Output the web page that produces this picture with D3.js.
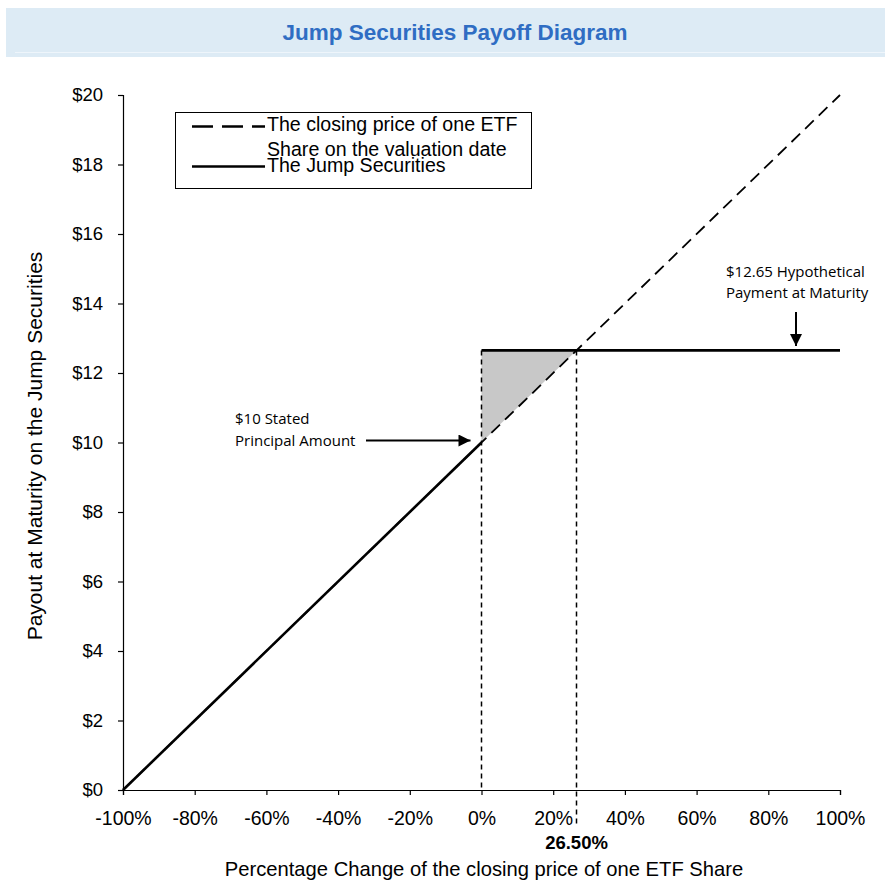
<!DOCTYPE html>
<html>
<head>
<meta charset="utf-8">
<script src="https://cdn.jsdelivr.net/npm/d3@7"></script>
<style>
  body { margin: 0; background: #fff; }
  text { font-family: Arial, "Liberation Sans", sans-serif; }
  .note { font-family: "Open Sans", "DejaVu Sans", sans-serif; font-size: 15px; }
</style>
</head>
<body>
<svg width="885" height="882"></svg>
<script>
// data
const pctTicks = [-1, -0.8, -0.6, -0.4, -0.2, 0, 0.2, 0.4, 0.6, 0.8, 1];
const priceTicks = [0, 2, 4, 6, 8, 10, 12, 14, 16, 18, 20];
const principal = 10;
const jumpPayment = 12.65;
const breakEven = 0.265;
const etfLine = [[-1, 0], [1, 20]];
const jumpLine = [[-1, 0], [0, 10]];
const jumpFlat = [[0, 12.65], [1, 12.65]];
const shaded = [[0, 10], [0, 12.65], [0.265, 12.65]];

const svg = d3.select('svg');

// title banner
svg.append('rect').attr('x', 6).attr('y', 8).attr('width', 879).attr('height', 49).attr('fill', '#ddebf5');
svg.append('line').attr('x1', 15).attr('x2', 885).attr('y1', 52.5).attr('y2', 52.5).attr('stroke', '#eef5fb').attr('stroke-width', 1);
svg.append('text').attr('x', 455).attr('y', 39.5).attr('text-anchor', 'middle')
  .attr('font-size', 22.5).attr('font-weight', 'bold').attr('fill', '#2f6dc3')
  .text('Jump Securities Payoff Diagram');

const x = d3.scaleLinear().domain([-1, 1]).range([123, 840]);
const y = d3.scaleLinear().domain([0, 20]).range([790, 95]);
const line = d3.line().x(d => x(d[0])).y(d => y(d[1]));

// shaded gain area
svg.append('path').attr('d', line(shaded) + 'Z').attr('fill', '#c8c8c8');

// axes
const yAxis = svg.append('g').attr('transform', 'translate(123,0)')
  .call(d3.axisLeft(y).tickValues(priceTicks).tickSize(5).tickPadding(15).tickFormat(d => '$' + d));
const xAxis = svg.append('g').attr('transform', 'translate(0,790)')
  .call(d3.axisBottom(x).tickValues(pctTicks).tickSize(5).tickPadding(16).tickFormat(d => Math.round(d * 100) + '%'));
[yAxis, xAxis].forEach(g => {
  g.select('.domain').attr('stroke', '#000').attr('stroke-width', 1.2);
  g.selectAll('.tick line').attr('stroke', '#000').attr('stroke-width', 1.2);
  g.selectAll('.tick text').attr('font-family', 'Arial, "Liberation Sans", sans-serif').attr('fill', '#000');
});
yAxis.selectAll('.tick text').attr('font-size', 18.5);
xAxis.selectAll('.tick text').attr('font-size', 19.5);

// dashed guide verticals
svg.append('line').attr('x1', x(0)).attr('x2', x(0)).attr('y1', y(jumpPayment)).attr('y2', y(0))
  .attr('stroke', '#000').attr('stroke-width', 1.5).attr('stroke-dasharray', '5,4');
svg.append('line').attr('x1', x(breakEven)).attr('x2', x(breakEven)).attr('y1', y(jumpPayment)).attr('y2', 826)
  .attr('stroke', '#000').attr('stroke-width', 1.5).attr('stroke-dasharray', '5,4');

// ETF line (dashed)
svg.append('path').attr('d', line(etfLine)).attr('fill', 'none')
  .attr('stroke', '#000').attr('stroke-width', 1.8).attr('stroke-dasharray', '12,7');
// Jump securities (solid)
svg.append('path').attr('d', line(jumpLine)).attr('fill', 'none').attr('stroke', '#000').attr('stroke-width', 2.6);
svg.append('path').attr('d', line(jumpFlat)).attr('fill', 'none').attr('stroke', '#000').attr('stroke-width', 2.6);

// break-even label
svg.append('text').attr('x', x(breakEven)).attr('y', 849).attr('text-anchor', 'middle')
  .attr('font-size', 18.5).attr('font-weight', 'bold').text((breakEven * 100).toFixed(2) + '%');

// axis titles
svg.append('text').attr('x', 484).attr('y', 876).attr('text-anchor', 'middle').attr('font-size', 20.2)
  .text('Percentage Change of the closing price of one ETF Share');
svg.append('text').attr('transform', 'translate(42,446) rotate(-90)').attr('text-anchor', 'middle').attr('font-size', 21)
  .text('Payout at Maturity on the Jump Securities');

// legend
const lg = svg.append('g');
lg.append('rect').attr('x', 175.5).attr('y', 112.5).attr('width', 356).attr('height', 76)
  .attr('fill', '#fff').attr('stroke', '#000').attr('stroke-width', 1);
lg.append('line').attr('x1', 192).attr('x2', 265).attr('y1', 126.5).attr('y2', 126.5)
  .attr('stroke', '#000').attr('stroke-width', 2.6).attr('stroke-dasharray', '21,9');
lg.append('line').attr('x1', 192).attr('x2', 265).attr('y1', 166.5).attr('y2', 166.5)
  .attr('stroke', '#000').attr('stroke-width', 2.6);
lg.append('text').attr('x', 267).attr('y', 131).attr('font-size', 19.6).text('The closing price of one ETF');
lg.append('text').attr('x', 267).attr('y', 155.5).attr('font-size', 19.6).text('Share on the valuation date');
lg.append('text').attr('x', 267).attr('y', 171.5).attr('font-size', 19.6).text('The Jump Securities');

// arrowhead
svg.append('defs').append('marker').attr('id', 'arrow').attr('viewBox', '0 0 10 10')
  .attr('refX', 10).attr('refY', 5).attr('markerWidth', 13).attr('markerHeight', 12)
  .attr('markerUnits', 'userSpaceOnUse').attr('orient', 'auto')
  .append('path').attr('d', 'M0,0L10,5L0,10Z').attr('fill', '#000');

// principal annotation
svg.append('text').attr('class', 'note').attr('x', 235).attr('y', 424).text('$10 Stated');
svg.append('text').attr('class', 'note').attr('x', 235).attr('y', 446).text('Principal Amount');
svg.append('line').attr('x1', 366).attr('x2', x(0) - 11).attr('y1', 440.5).attr('y2', 440.5)
  .attr('stroke', '#000').attr('stroke-width', 2).attr('marker-end', 'url(#arrow)');

// payment annotation
svg.append('text').attr('class', 'note').attr('x', 726).attr('y', 277).text('$12.65 Hypothetical');
svg.append('text').attr('class', 'note').attr('x', 726).attr('y', 298).text('Payment at Maturity');
svg.append('line').attr('x1', 796).attr('x2', 796).attr('y1', 312).attr('y2', 346)
  .attr('stroke', '#000').attr('stroke-width', 2).attr('marker-end', 'url(#arrow)');
</script>
</body>
</html>
